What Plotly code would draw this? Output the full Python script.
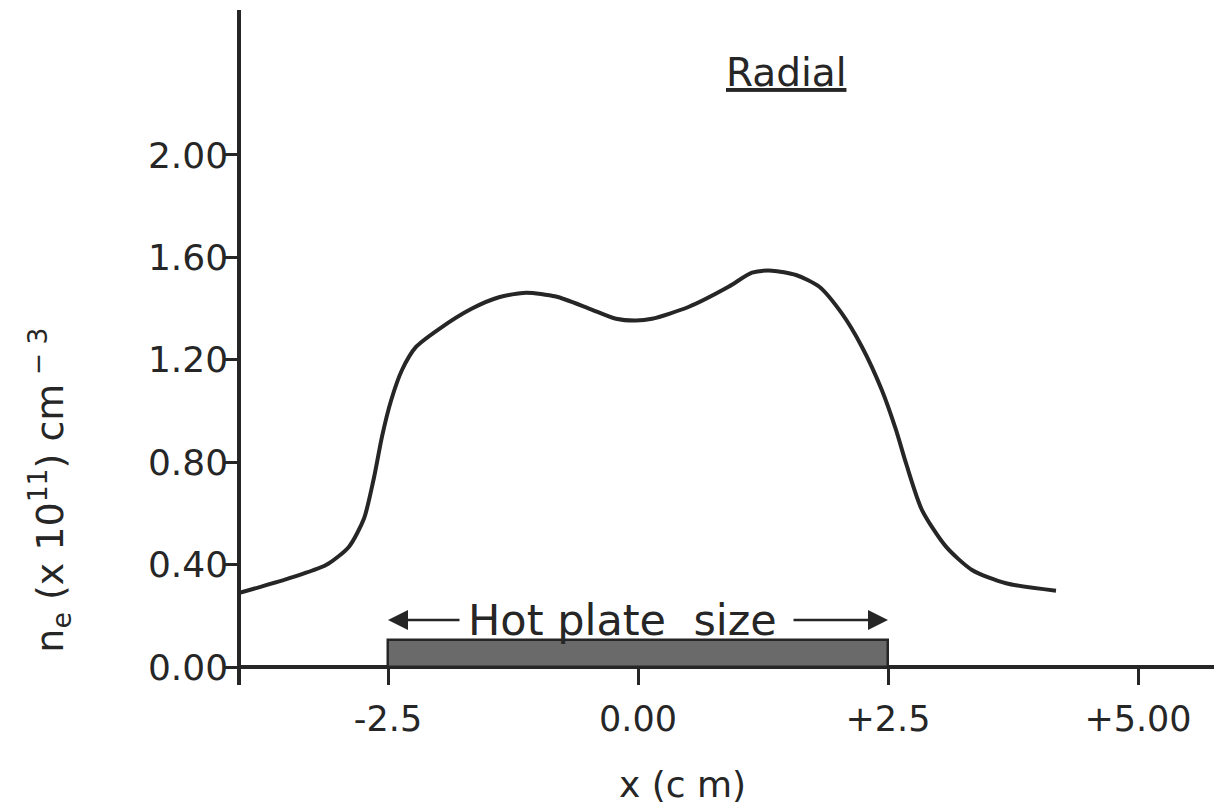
import plotly.graph_objects as go

# Radial electron density profile
x_cm = [-3.99, -3.50, -3.12, -2.89, -2.74, -2.64, -2.56, -2.47, -2.36, -2.22,
        -1.99, -1.66, -1.39, -1.12, -0.82, -0.49, -0.22, -0.02, 0.14, 0.51,
        0.91, 1.14, 1.34, 1.58, 1.81, 2.04, 2.24, 2.44, 2.58, 2.68,
        2.84, 3.08, 3.34, 3.68, 4.18]
ne = [0.289, 0.345, 0.398, 0.47, 0.58, 0.74, 0.90, 1.04, 1.16, 1.25,
      1.32, 1.40, 1.444, 1.462, 1.447, 1.40, 1.36, 1.353, 1.36, 1.407,
      1.486, 1.54, 1.548, 1.531, 1.486, 1.38, 1.25, 1.08, 0.926, 0.796,
      0.613, 0.47, 0.379, 0.327, 0.298]

# hot plate
plate_center = [0.0]
plate_width = [5.0]
plate_height = [0.105]
plate_label_y = 0.184
arrow_left = (-1.77, -2.5)   # (tail, head)
arrow_right = (1.54, 2.5)

x_ticks = [-2.5, 0.0, 2.5, 5.0]
x_ticktext = ["-2.5", "0.00", "+2.5", "+5.00"]
y_ticks = [0.0, 0.4, 0.8, 1.2, 1.6, 2.0]
y_ticktext = ["0.00", "0.40", "0.80", "1.20", "1.60", "2.00"]

INK = "#262626"
FONT = "DejaVu Sans"

fig = go.Figure()
fig.add_trace(go.Bar(x=plate_center, y=plate_height, width=plate_width,
                     marker=dict(color="#6a6a6a", line=dict(color=INK, width=2.5)),
                     showlegend=False, hoverinfo="skip"))
fig.add_trace(go.Scatter(x=x_cm, y=ne, mode="lines",
                         line=dict(color=INK, width=4, shape="spline", smoothing=0.7),
                         showlegend=False))

fig.add_annotation(x=-0.16, y=plate_label_y, xref="x", yref="y",
                   text="Hot plate  size", showarrow=False,
                   font=dict(family=FONT, size=43, color=INK),
                   xanchor="center", yanchor="middle")
for tail, head in (arrow_left, arrow_right):
    fig.add_annotation(x=head, y=plate_label_y, ax=tail, ay=plate_label_y,
                       xref="x", yref="y", axref="x", ayref="y",
                       text="", showarrow=True, arrowhead=2, arrowsize=1.6,
                       arrowwidth=2.5, arrowcolor=INK)

fig.add_annotation(x=0.556, y=0.908, xref="paper", yref="paper",
                   text="<u>Radial</u>", showarrow=False,
                   xanchor="center", yanchor="middle",
                   font=dict(family=FONT, size=39, color=INK))
fig.add_annotation(x=-0.195, y=0.289, xref="paper", yref="paper",
                   text="n<sub>e</sub> (x 10<sup>11</sup>) cm<sup> − 3</sup>",
                   textangle=-90, showarrow=False,
                   xanchor="center", yanchor="middle",
                   font=dict(family=FONT, size=38, color=INK))
fig.add_annotation(x=0.45, y=-0.148, xref="paper", yref="paper",
                   text="x (c m)", showarrow=False,
                   xanchor="center", yanchor="middle",
                   font=dict(family=FONT, size=36, color=INK))

fig.update_layout(
    width=1222, height=812,
    margin=dict(l=233, r=8, t=2, b=135),
    plot_bgcolor="white", paper_bgcolor="white",
    font=dict(family=FONT, color=INK),
    bargap=0,
)
fig.update_xaxes(range=[-3.97, 5.84], tickvals=x_ticks, ticktext=x_ticktext,
                 showgrid=False, zeroline=False, showline=False,
                 ticks="inside", ticklen=18, tickwidth=2.5,
                 ticklabelstandoff=10,
                 tickcolor=INK, tickfont=dict(family=FONT, size=35, color=INK))
fig.update_yaxes(range=[-0.0703, 2.566], tickvals=y_ticks, ticktext=y_ticktext,
                 showgrid=False, zeroline=True, zerolinecolor=INK, zerolinewidth=3.5,
                 showline=True, linecolor=INK,
                 linewidth=3.5, ticks="outside", ticklen=12, tickwidth=2.5,
                 ticklabelstandoff=-10,
                 tickcolor=INK, tickfont=dict(family=FONT, size=36, color=INK))

fig.write_html("out.html")
